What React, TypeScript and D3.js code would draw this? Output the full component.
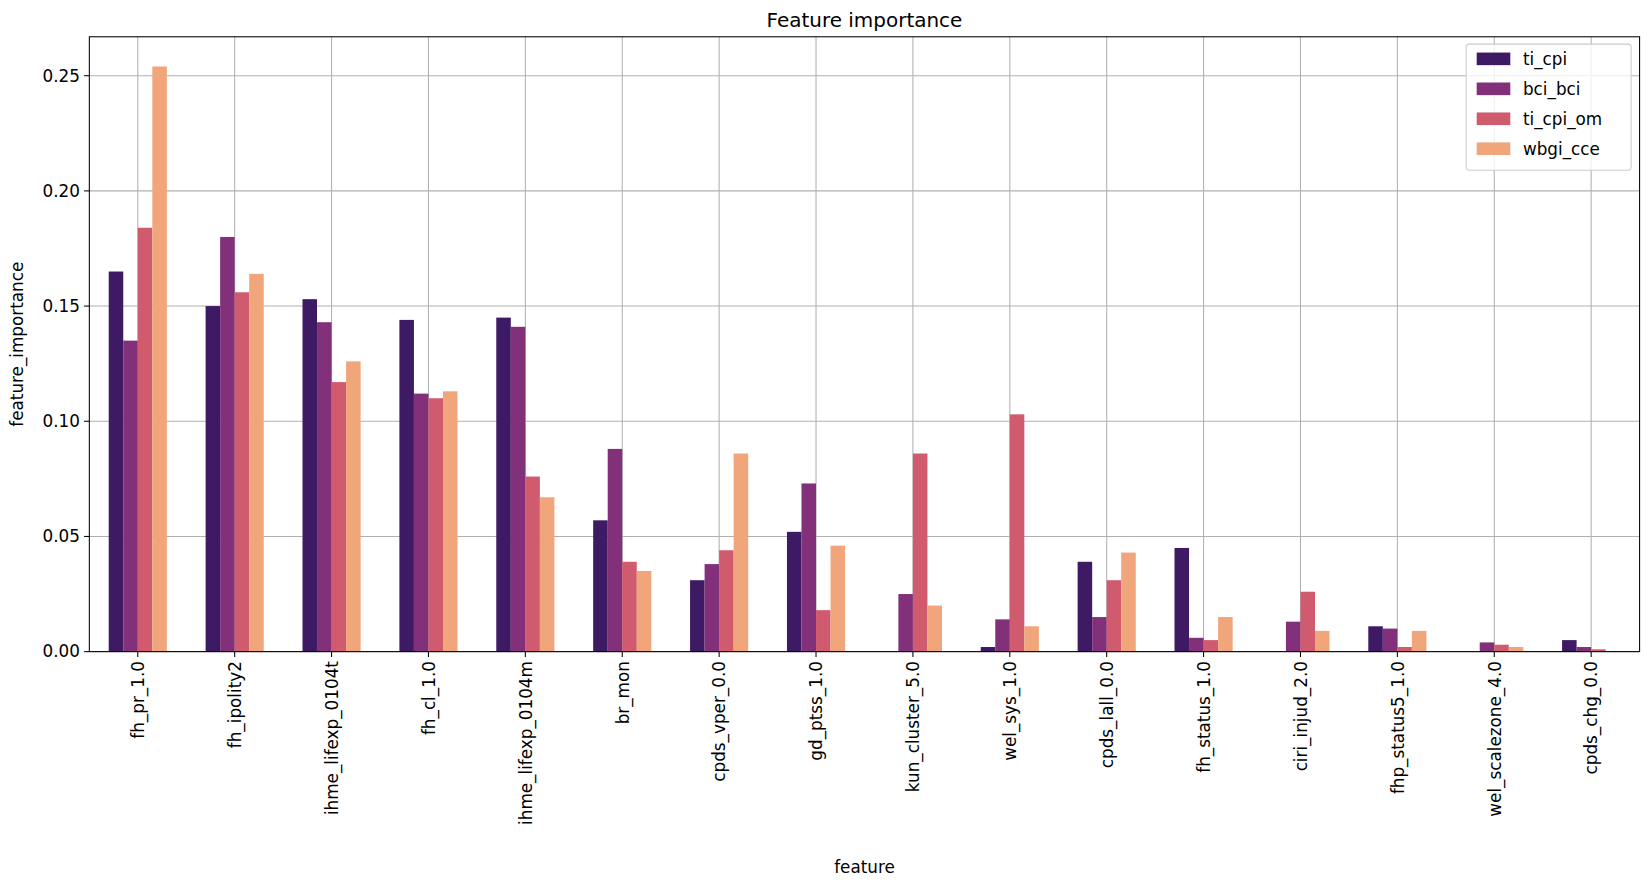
import React from "react";
import * as d3 from "d3";

const features = ["fh_pr_1.0","fh_ipolity2","ihme_lifexp_0104t","fh_cl_1.0","ihme_lifexp_0104m","br_mon","cpds_vper_0.0","gd_ptss_1.0","kun_cluster_5.0","wel_sys_1.0","cpds_lall_0.0","fh_status_1.0","ciri_injud_2.0","fhp_status5_1.0","wel_scalezone_4.0","cpds_chg_0.0"];
const seriesNames = ["ti_cpi","bci_bci","ti_cpi_om","wbgi_cce"];
const colors = ["#3e1a64","#82307a","#d05b6f","#f0a57a"];
const tiCpi = [0.165,0.150,0.153,0.144,0.145,0.057,0.031,0.052,0,0.002,0.039,0.045,0,0.011,0,0.005];
const bciBci = [0.135,0.180,0.143,0.112,0.141,0.088,0.038,0.073,0.025,0.014,0.015,0.006,0.013,0.010,0.004,0.002];
const tiCpiOm = [0.184,0.156,0.117,0.110,0.076,0.039,0.044,0.018,0.086,0.103,0.031,0.005,0.026,0.002,0.003,0.001];
const wbgiCce = [0.254,0.164,0.126,0.113,0.067,0.035,0.086,0.046,0.020,0.011,0.043,0.015,0.009,0.009,0.002,0];
const series = [tiCpi, bciBci, tiCpiOm, wbgiCce];
const yTicks = [0, 0.05, 0.1, 0.15, 0.2, 0.25];

export default function App() {
  // the reference is laid out in a 1568x843 frame, scaled to fill the window
  const W = 1568, H = 843;
  const L = 85, R = 1560, T = 35, B = 620;
  const x = d3.scaleBand().domain(features).range([L, R]).paddingInner(0).paddingOuter(0);
  const y = d3.scaleLinear().domain([0, 0.2669]).range([B, T]);
  const groupW = x.bandwidth() * 0.6;
  const inner = d3.scaleBand().domain(seriesNames).range([0, groupW]);
  const font = "DejaVu Sans, sans-serif";
  return (
    <svg width={1648} height={886} viewBox={`0 0 ${W} ${H}`} preserveAspectRatio="none"
      style={{ position: "absolute", left: 0, top: 0, background: "white" }} fontFamily={font}>
      {features.map((f) => (
        <line key={f} x1={x(f)! + x.bandwidth() / 2} x2={x(f)! + x.bandwidth() / 2} y1={T} y2={B} stroke="#b0b0b0" strokeWidth={1} />
      ))}
      {yTicks.map((t) => (
        <line key={t} x1={L} x2={R} y1={y(t)} y2={y(t)} stroke="#b0b0b0" strokeWidth={1} />
      ))}
      {series.map((vals, si) =>
        vals.map((v, i) => (
          <rect key={si + "-" + i}
            x={x(features[i])! + (x.bandwidth() - groupW) / 2 + inner(seriesNames[si])!}
            width={inner.bandwidth()} y={y(v)} height={B - y(v)} fill={colors[si]} />
        ))
      )}
      <rect x={L} y={T} width={R - L} height={B - T} fill="none" stroke="black" strokeWidth={1} />
      {yTicks.map((t) => (
        <g key={t}>
          <line x1={L - 5} x2={L} y1={y(t)} y2={y(t)} stroke="black" />
          <text x={L - 9} y={y(t)} dy="0.35em" textAnchor="end" fontSize={16}>{t.toFixed(2)}</text>
        </g>
      ))}
      {features.map((f) => {
        const cx = x(f)! + x.bandwidth() / 2;
        return (
          <g key={f}>
            <line x1={cx} x2={cx} y1={B} y2={B + 5} stroke="black" />
            <text transform={`translate(${cx + 6},${B + 9}) rotate(-90)`} textAnchor="end" fontSize={16}>{f}</text>
          </g>
        );
      })}
      <text x={(L + R) / 2} y={26} textAnchor="middle" fontSize={19}>Feature importance</text>
      <text x={(L + R) / 2} y={831} textAnchor="middle" fontSize={16}>feature</text>
      <text transform={`translate(22,${(T + B) / 2}) rotate(-90)`} textAnchor="middle" fontSize={16}>feature_importance</text>
      <g>
        <rect x={1395} y={42} width={157} height={120} fill="white" fillOpacity={0.8} stroke="#cccccc" rx={3} />
        {seriesNames.map((s, i) => (
          <g key={s} transform={`translate(1405,${50 + i * 28.5})`}>
            <rect width={32} height={12} fill={colors[i]} />
            <text x={44} y={6} dy="0.35em" fontSize={16}>{s}</text>
          </g>
        ))}
      </g>
    </svg>
  );
}
